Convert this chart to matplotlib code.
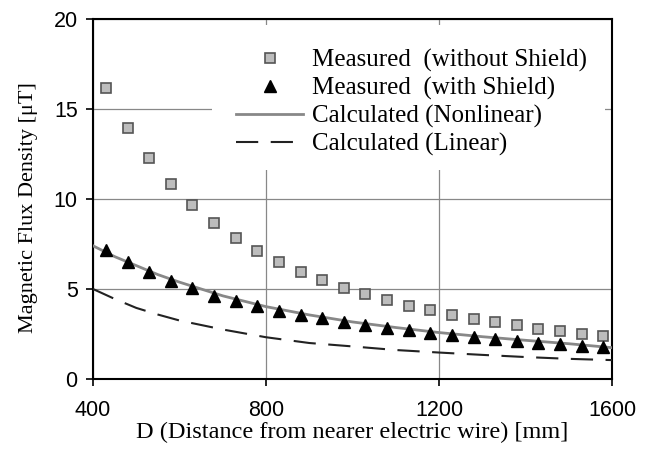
import numpy as np
import matplotlib
matplotlib.use("Agg")
import matplotlib.pyplot as plt
from matplotlib.patches import Rectangle

plt.rcParams['lines.scale_dashes'] = False

# Measured points (distance in mm, flux density in uT)
d_meas = [430, 480, 530, 580, 630, 680, 730, 780, 830, 880, 930, 980,
          1030, 1080, 1130, 1180, 1230, 1280, 1330, 1380, 1430, 1480, 1530, 1580]
b_no_shield = [16.15, 13.96, 12.26, 10.83, 9.67, 8.68, 7.85, 7.13, 6.52, 5.96, 5.50, 5.08,
               4.70, 4.37, 4.07, 3.81, 3.56, 3.33, 3.17, 2.98, 2.80, 2.65, 2.52, 2.39]
b_shield = [7.17, 6.52, 5.96, 5.46, 5.04, 4.61, 4.35, 4.06, 3.80, 3.56, 3.41, 3.18,
            3.00, 2.85, 2.72, 2.54, 2.43, 2.32, 2.21, 2.11, 2.02, 1.93, 1.83, 1.79]

# Calculated curves
d_calc = [400, 450, 500, 550, 600, 700, 800, 900, 1000, 1100, 1200, 1300, 1400, 1500, 1600]
b_nonlinear = [7.40, 6.80, 6.30, 5.80, 5.38, 4.62, 4.02, 3.56, 3.17, 2.86, 2.58, 2.35, 2.15, 1.96, 1.74]
b_linear = [5.00, 4.45, 3.95, 3.58, 3.25, 2.75, 2.32, 2.00, 1.81, 1.61, 1.47, 1.34, 1.22, 1.12, 1.05]

fig = plt.figure(figsize=(6.48, 4.5), dpi=100)
ax = fig.add_axes([93/648, 1 - 379/450, (612 - 93)/648, (379 - 19)/450])

ax.plot(d_calc, b_nonlinear, color='#888888', lw=2.0, zorder=3,
        label='Calculated (Nonlinear)')
ax.plot(d_calc, b_linear, color='#222222', lw=1.5, dashes=(16, 9), zorder=3,
        label='Calculated (Linear)')
ax.plot(d_meas, b_no_shield, ls='none', marker='s', ms=7.5, mfc='#bdbdbd',
        mec='#555555', mew=1.2, zorder=4, label='Measured  (without Shield)')
ax.plot(d_meas, b_shield, ls='none', marker='^', ms=9, color='black',
        zorder=4, label='Measured  (with Shield)')

ax.set_xlim(400, 1600)
ax.set_ylim(0, 20)
ax.set_xticks([400, 800, 1200, 1600])
ax.set_yticks([0, 5, 10, 15, 20])
ax.grid(True, color='#888888', lw=0.9)
ax.set_axisbelow(True)

# white box behind the legend hides the grid there
ax.add_patch(Rectangle((0.2293, 0.5806), 0.9865 - 0.2293, 0.9833 - 0.5806,
                       transform=ax.transAxes, fc='white', ec='none', zorder=1.5))

for s in ax.spines.values():
    s.set_linewidth(1.5)
ax.tick_params(direction='out', length=5, width=1.2, pad=6, labelsize=15.5)
ax.tick_params(axis='x', pad=10)
for lab in ax.get_xticklabels() + ax.get_yticklabels():
    lab.set_family('Liberation Sans')

ax.set_xlabel('D (Distance from nearer electric wire) [mm]',
              family='Liberation Serif', fontsize=17.5, labelpad=1)
ax.set_ylabel('Magnetic Flux Density [\u03bcT]',
              family='Liberation Serif', fontsize=16)
ax.yaxis.set_label_coords(-0.106, 0.475)

h, l = ax.get_legend_handles_labels()
order = [2, 3, 0, 1]
leg = ax.legend([h[i] for i in order], [l[i] for i in order],
                loc='upper left', bbox_to_anchor=((212 - 93)/519, 1 - (25 - 19)/360),
                prop={'family': 'Liberation Serif', 'size': 18},
                frameon=False, handlelength=2.7, handletextpad=0.35,
                labelspacing=0.2, borderpad=0.95, borderaxespad=0)

plt.savefig('out.png', dpi=100)
